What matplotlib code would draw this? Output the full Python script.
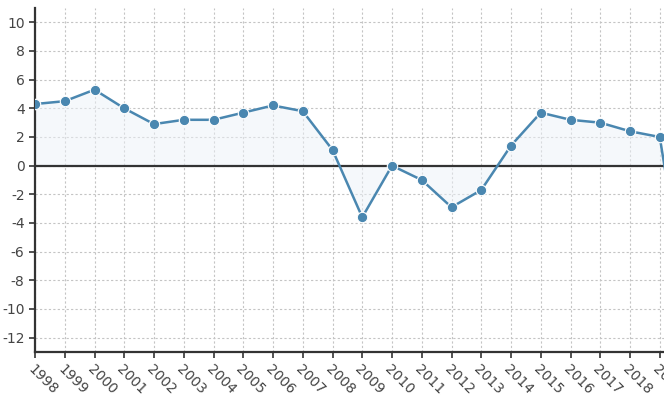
import numpy as np
import matplotlib.pyplot as plt

plt.rcParams['axes.unicode_minus'] = False

# yearly values (last point runs off the right edge)
years = [1998, 1999, 2000, 2001, 2002, 2003, 2004, 2005, 2006, 2007, 2008,
         2009, 2010, 2011, 2012, 2013, 2014, 2015, 2016, 2017, 2018, 2019, 2020]
values = [4.3, 4.5, 5.3, 4.0, 2.9, 3.2, 3.2, 3.7, 4.2, 3.8, 1.1,
          -3.6, 0.0, -1.0, -2.9, -1.7, 1.4, 3.7, 3.2, 3.0, 2.4, 2.0, -10.8]
y_ticks = [-12, -10, -8, -6, -4, -2, 0, 2, 4, 6, 8, 10]

line_color = '#4a87b0'
text_color = '#444444'

fig = plt.figure(figsize=(6.64, 4.13), dpi=100)
ax = fig.add_axes([35 / 664, 61 / 413, 1 - 35 / 664, 344 / 413])

ax.fill_between(years, values, 0, color='#edf2f8', alpha=0.5, linewidth=0)
ax.axhline(0, color='#333333', linewidth=1.6, zorder=2)
ax.plot(years, values, '-', color=line_color, linewidth=1.8, marker='o',
        markersize=7.5, markeredgecolor='white', markeredgewidth=0.8, zorder=3)

ax.set_xlim(1998, 1998 + 629 / 29.75)
ax.set_ylim(-13, 11)
ax.set_xticks(years[:-1])
ax.set_xticklabels([str(y) for y in years[:-1]], rotation=-45, ha='left',
                   va='top', rotation_mode='anchor')
ax.set_yticks(y_ticks)

ax.grid(True, color='#c4c4c4', linestyle=(0, (2, 2)), linewidth=0.8)
ax.set_axisbelow(True)

for side in ['top', 'right']:
    ax.spines[side].set_visible(False)
for side in ['left', 'bottom']:
    ax.spines[side].set_color('#333333')
    ax.spines[side].set_linewidth(1.6)

ax.tick_params(axis='both', colors='#333333', labelcolor=text_color,
               labelsize=10, length=4, width=1.2)
ax.tick_params(axis='x', pad=3)

fig.savefig('out.png', dpi=100)
